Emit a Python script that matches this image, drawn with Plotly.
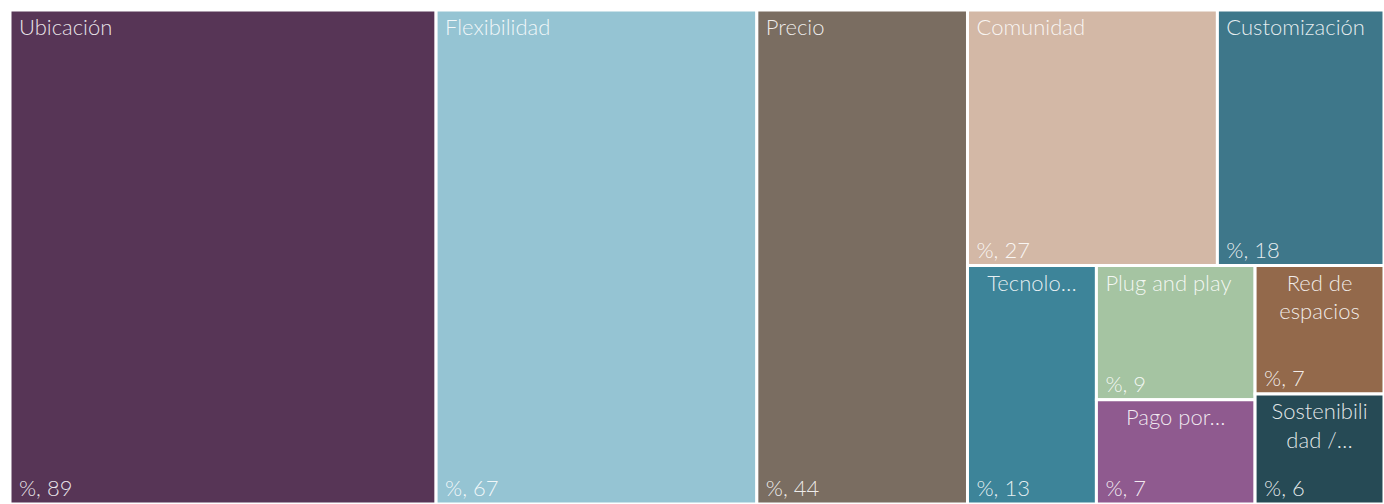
import plotly.graph_objects as go

# leaf data
labels = ["Ubicación", "Flexibilidad", "Precio", "Comunidad", "Customización",
          "Tecnología", "Plug and play", "Pago por uso", "Red de espacios", "Sostenibilidad"]
values = [89, 67, 44, 27, 18, 13, 9, 7, 7, 6]
shown_labels = ["Ubicación", "Flexibilidad", "Precio", "Comunidad", "Customización",
                "Tecnolo…", "Plug and play", "Pago por…", "Red de<br>espacios", "Sostenibili<br>dad /…"]
centered = [False, False, False, False, False, True, False, True, True, True]
colors = ["#573556", "#95c4d3", "#7a6d61", "#d3b8a6", "#3e778a",
          "#3d8499", "#a5c4a2", "#8f5a8f", "#93694b", "#264a55"]
# layout grouping (structure only) reproducing the reference tiling
leaf_parent = ["", "", "", "g2", "g2", "g3", "g4", "g4", "g5", "g5"]
group_ids = ["g1", "g2", "g3", "g4", "g5"]
group_parent = ["", "g1", "g1", "g3", "g3"]

order_ids, order_parents, order_labels, order_vals = [], [], [], []
leaf_index = {}

def leaf_sum(gid):
    tot = sum(values[i] for i, p in enumerate(leaf_parent) if p == gid)
    tot += sum(leaf_sum(g) for g, p in zip(group_ids, group_parent) if p == gid)
    return tot

def add_children(pid):
    for i, p in enumerate(leaf_parent):
        if p == pid:
            leaf_index[len(order_ids)] = i
            order_ids.append(labels[i]); order_parents.append(pid)
            order_labels.append(labels[i]); order_vals.append(values[i])
    for g, p in zip(group_ids, group_parent):
        if p == pid:
            order_ids.append(g); order_parents.append(pid)
            order_labels.append(""); order_vals.append(leaf_sum(g))
            add_children(g)

add_children("")
N = len(order_ids)
is_leaf = [i in leaf_index for i in range(N)]
clear = "rgba(0,0,0,0)"
NB = "\u00a0"
node_colors = [colors[leaf_index[i]] if is_leaf[i] else clear for i in range(N)]
line_w = [3 if is_leaf[i] else 0 for i in range(N)]
value_txt = [NB + "%, " + str(values[leaf_index[i]]) if is_leaf[i] else "" for i in range(N)]
left_txt = [(NB + shown_labels[leaf_index[i]] if not centered[leaf_index[i]] else "") if is_leaf[i] else ""
            for i in range(N)]
center_txt = [(shown_labels[leaf_index[i]] if centered[leaf_index[i]] else "") if is_leaf[i] else ""
              for i in range(N)]

FONT = dict(family="Lato, Open Sans, sans-serif", size=22, color="rgba(255,255,255,0.88)", weight=300)
common = dict(
    ids=order_ids, labels=order_labels, parents=order_parents, values=order_vals,
    branchvalues="total", sort=False,
    tiling=dict(packing="slice-dice", pad=0),
    pathbar=dict(visible=False), root=dict(color=clear),
    domain=dict(x=[0, 1], y=[0, 1]),
)
PAD = dict(t=0, l=0, r=0, b=0)

fig = go.Figure()
fig.add_trace(go.Treemap(
    **common,
    marker=dict(colors=node_colors, line=dict(color="white", width=line_w), pad=PAD),
    text=value_txt, texttemplate="%{text}", textposition="bottom left", textfont=FONT,
    hovertemplate="%{label}: %{value}<extra></extra>",
))
fig.add_trace(go.Treemap(
    **common,
    marker=dict(colors=[clear] * N, line=dict(color=clear, width=0), pad=PAD),
    text=left_txt, texttemplate="%{text}", textposition="top left", textfont=FONT, hoverinfo="skip",
))
fig.add_trace(go.Treemap(
    **common,
    marker=dict(colors=[clear] * N, line=dict(color=clear, width=0), pad=PAD),
    text=center_txt, texttemplate="%{text}", textposition="top center", textfont=FONT, hoverinfo="skip",
))

fig.update_layout(
    width=1384, height=504,
    margin=dict(l=10, t=10, r=0, b=0),
    paper_bgcolor="white", plot_bgcolor="white",
    showlegend=False,
)
fig.write_html("out.html")
